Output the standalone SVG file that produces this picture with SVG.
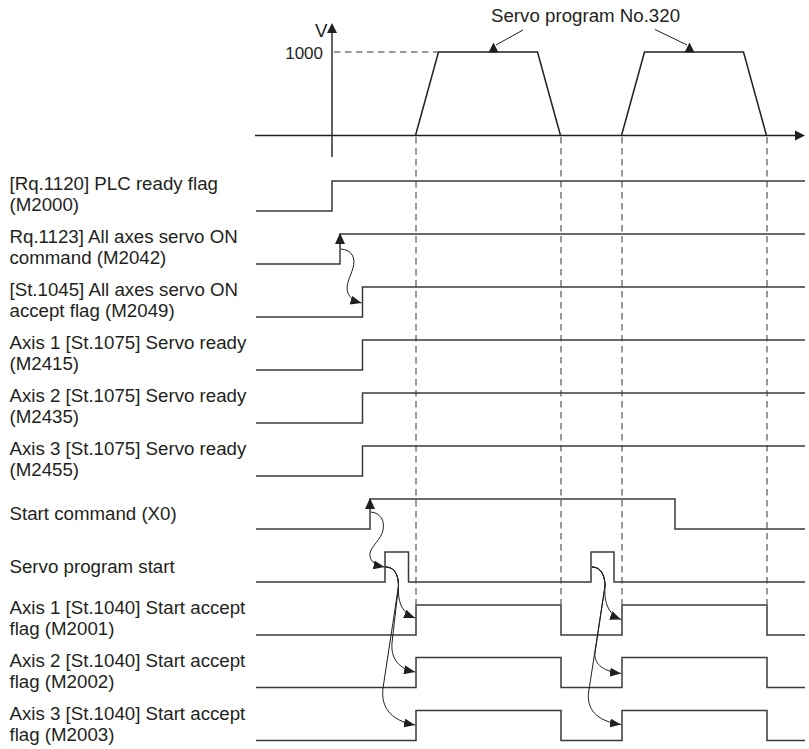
<svg xmlns="http://www.w3.org/2000/svg" width="809" height="749" viewBox="0 0 809 749">
<style>
text{font-family:"Liberation Sans",Arial,sans-serif;font-size:18.7px;fill:#231f20}
.sig{fill:none;stroke:#3a3a3a;stroke-width:1.5}
.ax{fill:none;stroke:#231f20;stroke-width:1.4}
.prof{fill:none;stroke:#231f20;stroke-width:1.5}
.dash{fill:none;stroke:#333;stroke-width:1;stroke-dasharray:6.5 4.5}
.cur{fill:none;stroke:#231f20;stroke-width:1;marker-end:url(#ah)}
.head{fill:#231f20}
</style>
<defs>
<marker id="ah" markerUnits="userSpaceOnUse" viewBox="0 0 11 9" refX="11" refY="4.5" markerWidth="11" markerHeight="9" orient="auto">
<path d="M0,0 L11,4.5 L0,9 z" fill="#231f20"/>
</marker>
</defs>

<g id="velocity-chart">
<line class="ax" x1="332" y1="157" x2="332" y2="31"/>
<polygon class="head" points="332,23 327,33 337,33"/>
<line class="ax" x1="255" y1="135.5" x2="796" y2="135.5"/>
<polygon class="head" points="805,135.5 795,130.5 795,140.5"/>
<text x="315" y="37">V</text>
<text x="323" y="58.5" text-anchor="end" style="font-size:17px">1000</text>
<line class="dash" x1="334" y1="52" x2="438" y2="52"/>
<polyline class="prof" points="415.5,135.5 438.5,52 537.5,52 560.5,135.5"/>
<polyline class="prof" points="621.5,135.5 644.5,52 743.5,52 766.5,135.5"/>
<text x="491" y="21.5">Servo program No.320</text>
<line class="ax" style="stroke-width:1" x1="523" y1="30" x2="496" y2="45"/>
<polygon class="head" points="488.5,52.5 498.5,52.5 493.5,42.5"/>
<line class="ax" style="stroke-width:1" x1="655" y1="29.5" x2="687" y2="45"/>
<polygon class="head" points="684.5,52.5 694.5,52.5 689.5,42.5"/>
</g>

<g id="guides">
<line class="dash" x1="416" y1="137" x2="416" y2="604"/>
<line class="dash" x1="561" y1="137" x2="561" y2="604"/>
<line class="dash" x1="622" y1="137" x2="622" y2="604"/>
<line class="dash" x1="767" y1="137" x2="767" y2="604"/>
</g>

<g id="plc-ready">
<text x="9.5" y="190">[Rq.1120] PLC ready flag</text>
<text x="9.5" y="211">(M2000)</text>
<polyline class="sig" points="256,211 332,211 332,181 805,181"/>
</g>
<g id="servo-on-command">
<text x="9.5" y="243">Rq.1123] All axes servo ON</text>
<text x="9.5" y="264">command (M2042)</text>
<polyline class="sig" points="256,264 340,264 340,234 805,234"/>
<polygon class="head" points="340,233 335,244 345,244"/>
</g>
<g id="servo-on-accept">
<text x="9.5" y="296">[St.1045] All axes servo ON</text>
<text x="9.5" y="317">accept flag (M2049)</text>
<polyline class="sig" points="256,317 362.5,317 362.5,287 805,287"/>
</g>
<g id="axis1-servo-ready">
<text x="9.5" y="349">Axis 1 [St.1075] Servo ready</text>
<text x="9.5" y="370">(M2415)</text>
<polyline class="sig" points="256,370 362.5,370 362.5,340 805,340"/>
</g>
<g id="axis2-servo-ready">
<text x="9.5" y="402">Axis 2 [St.1075] Servo ready</text>
<text x="9.5" y="423">(M2435)</text>
<polyline class="sig" points="256,423 362.5,423 362.5,393 805,393"/>
</g>
<g id="axis3-servo-ready">
<text x="9.5" y="455">Axis 3 [St.1075] Servo ready</text>
<text x="9.5" y="476">(M2455)</text>
<polyline class="sig" points="256,476 362.5,476 362.5,446 805,446"/>
</g>
<g id="start-command">
<text x="9.5" y="520">Start command (X0)</text>
<polyline class="sig" points="256,529 370,529 370,499 675,499 675,529 805,529"/>
<polygon class="head" points="370,498 365,509 375,509"/>
</g>
<g id="servo-program-start">
<text x="9.5" y="573">Servo program start</text>
<polyline class="sig" points="256,582 385,582 385,552 408.5,552 408.5,582 591,582 591,552 614,552 614,582 805,582"/>
</g>
<g id="axis1-start-accept">
<text x="9.5" y="614">Axis 1 [St.1040] Start accept</text>
<text x="9.5" y="635">flag (M2001)</text>
<polyline class="sig" points="256,635 416,635 416,605 561,605 561,635 622,635 622,605 767,605 767,635 805,635"/>
</g>
<g id="axis2-start-accept">
<text x="9.5" y="666.5">Axis 2 [St.1040] Start accept</text>
<text x="9.5" y="687.5">flag (M2002)</text>
<polyline class="sig" points="256,687.5 416,687.5 416,657.5 561,657.5 561,687.5 622,687.5 622,657.5 767,657.5 767,687.5 805,687.5"/>
</g>
<g id="axis3-start-accept">
<text x="9.5" y="719.5">Axis 3 [St.1040] Start accept</text>
<text x="9.5" y="740.5">flag (M2003)</text>
<polyline class="sig" points="256,740.5 416,740.5 416,710.5 561,710.5 561,740.5 622,740.5 622,710.5 767,710.5 767,740.5 805,740.5"/>
</g>

<g id="connectors">
<path class="cur" d="M341,249 C352,250 356,258 353,268 C350,278 345,285 348,293 C350,298 354,301 361.5,303"/>
<path class="cur" d="M371,512 C380,513 385,520 383,530 C381,540 372,545 370,553 C369,560 374,565 384.5,567"/>
<path class="cur" d="M385.5,567 C394,567 398.5,574 398.5,586 C398,600 400,612 415,618"/>
<path class="cur" d="M385.5,567 C394,567 398.5,574 398.5,586 L392,643 C391,656 396,668 415,672"/>
<path class="cur" d="M385.5,567 C394,567 398.5,574 398.5,586 L383,688 C381,705 388,720 415,725"/>
<path class="cur" d="M592,567 C600,567 605,574 605,586 C604,600 607,614 621,619.5"/>
<path class="cur" d="M592,567 C600,567 605,574 605,586 L595,653 C594,662 600,671 621,673.5"/>
<path class="cur" d="M592,567 C600,567 605,574 605,586 L588.5,693 C587,708 595,721 621,724.5"/>
</g>
</svg>
